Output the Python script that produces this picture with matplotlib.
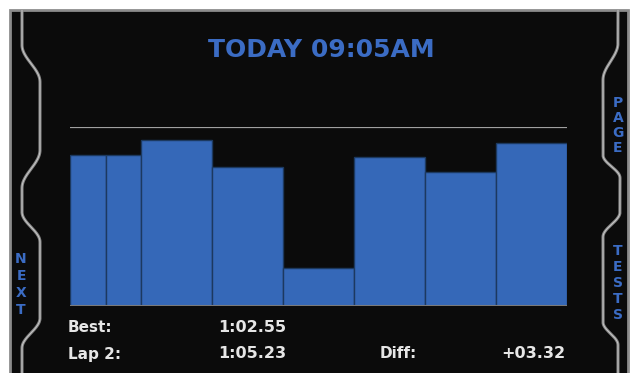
import numpy as np
import matplotlib
matplotlib.use('Agg')
from matplotlib import pyplot as plt
from matplotlib.patches import Rectangle

# lap segments: relative width and height against the reference line (=100)
segment_widths = [0.5, 0.5, 1, 1, 1, 1, 1, 1]
segment_values = [84.3, 84.5, 92.7, 77.5, 21.3, 83.1, 74.7, 91.0]
reference_value = 100

title_text = 'TODAY 09:05AM'
left_button = 'NEXT'
right_top_button = 'PAGE'
right_bottom_button = 'TESTS'

row_labels = ['Best:', 'Lap 2:']
row_times = ['1:02.55', '1:05.23']
diff_label = 'Diff:'
diff_value = '+03.32'

W, H = 635, 373
BLUE = '#3568b8'
TEXT_BLUE = '#3b6cc4'

fig = plt.figure(figsize=(W / 100, H / 100), dpi=100)
fig.patch.set_facecolor('white')

# background layer in pixel coordinates for the panel decoration
bg = fig.add_axes([0, 0, 1, 1])
bg.set_xlim(0, W)
bg.set_ylim(H, 0)
bg.axis('off')
bg.add_patch(Rectangle((10, 10), 618, 370, facecolor='#0b0b0b',
                       edgecolor='#8c8c8c', lw=2))


def ease(a, b, t):
    return a + (b - a) * (1 - np.cos(np.pi * t)) / 2


def side_curve(knots):
    # knots: list of (y, x); consecutive points eased with a cosine
    ys, xs = [], []
    for (y0, x0), (y1, x1) in zip(knots[:-1], knots[1:]):
        t = np.linspace(0, 1, 40)
        ys.append(y0 + (y1 - y0) * t)
        xs.append(ease(x0, x1, t))
    return np.concatenate(xs), np.concatenate(ys)


left_knots = [(10, 22), (45, 22), (82, 40), (150, 40), (188, 22), (212, 22),
              (242, 40), (318, 40), (348, 22), (373, 22)]
right_knots = [(10, 618), (43, 618), (80, 603), (155, 603), (178, 620),
               (212, 620), (237, 603), (322, 603), (345, 618), (373, 618)]
for knots in (left_knots, right_knots):
    xs, ys = side_curve(knots)
    bg.plot(xs, ys, color='#858585', lw=2.2, solid_capstyle='butt')
    bg.plot(xs, ys, color='#c8c8c8', lw=0.7, solid_capstyle='butt')

bg.text(321, 50, title_text, color=TEXT_BLUE, fontsize=18, fontweight='bold',
        ha='center', va='center')

for i, ch in enumerate(left_button):
    bg.text(21, 259 + i * 17, ch, color=TEXT_BLUE, fontsize=10,
            fontweight='bold', ha='center', va='center')
for i, ch in enumerate(right_top_button):
    bg.text(618, 103 + i * 15, ch, color=TEXT_BLUE, fontsize=10,
            fontweight='bold', ha='center', va='center')
for i, ch in enumerate(right_bottom_button):
    bg.text(618, 251 + i * 16, ch, color=TEXT_BLUE, fontsize=10,
            fontweight='bold', ha='center', va='center')

# lap summary rows
row_y = [328, 354]
for y, lab, t in zip(row_y, row_labels, row_times):
    bg.text(68, y, lab, color='#e6e6e6', fontsize=11, fontweight='bold',
            ha='left', va='center')
    bg.text(218, y, t, color='#e6e6e6', fontsize=11.5, fontweight='bold',
            ha='left', va='center')
bg.text(380, row_y[1], diff_label, color='#e6e6e6', fontsize=11,
        fontweight='bold', ha='left', va='center')
bg.text(565, row_y[1], diff_value, color='#e6e6e6', fontsize=11.5,
        fontweight='bold', ha='right', va='center')

# bar chart
x0, x1, y_base, y_ref = 70, 567, 306, 127
ax = fig.add_axes([x0 / W, (H - y_base) / H, (x1 - x0) / W, (y_base - y_ref) / H])
ax.patch.set_alpha(0)
lefts = np.concatenate([[0], np.cumsum(segment_widths)[:-1]])
ax.bar(lefts, segment_values, width=segment_widths, align='edge',
       color=BLUE, edgecolor='#1c3960', linewidth=1.0)
ax.axhline(reference_value, color='#a0a0a0', lw=1.6)
ax.axhline(0, color='#7a7a7a', lw=2.2)
ax.set_xlim(0, sum(segment_widths))
ax.set_ylim(0, reference_value)
ax.axis('off')

fig.savefig('out.png', dpi=100, facecolor=fig.get_facecolor())
